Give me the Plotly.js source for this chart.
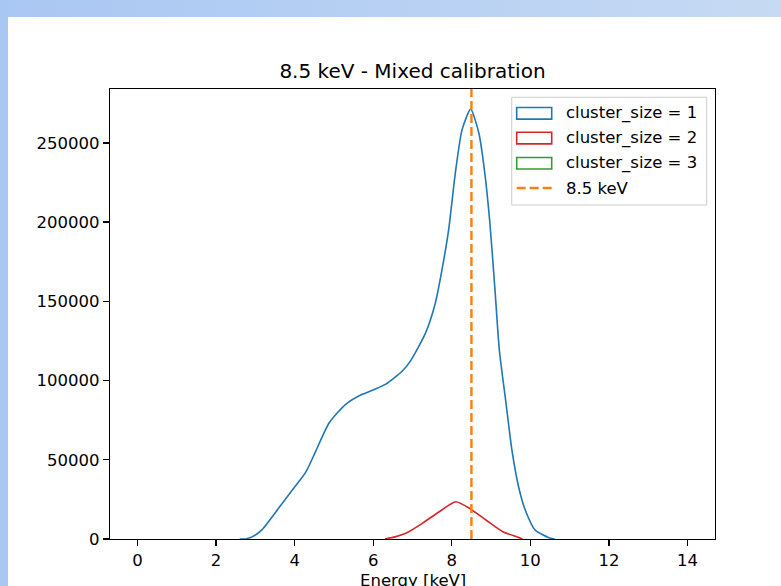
<!DOCTYPE html>
<html>
<head>
<meta charset="utf-8">
<script src="https://cdn.plot.ly/plotly-3.0.1.min.js"></script>
<style>
  html, body { margin:0; padding:0; width:781px; height:586px; overflow:hidden;
    background: linear-gradient(to right, #a9c7f3, #c6daf3); }
  #plot { position:absolute; left:8px; top:17px; width:773px; height:569px; background:#ffffff; }
</style>
</head>
<body>
<div id="plot"></div>
<script>
// ---- data ----
const chartTitle = '8.5 keV - Mixed calibration';
const xAxisTitle = 'Energy [keV]';
const seriesNames = ['cluster_size = 1', 'cluster_size = 2', 'cluster_size = 3', '8.5 keV'];
const seriesColors = ['#1f77b4', '#d62728', '#2ca02c', '#ff7f0e'];

// histogram outlines (the zero runs along the baseline are hidden under the axis, as in the reference)
const energyBlue = [2.6, 2.75, 2.95, 3.18, 3.61, 3.96, 4.28, 4.54, 4.88, 5.30, 5.72, 5.98, 6.32, 6.74, 6.95, 7.33, 7.58, 7.75, 7.92, 8.09, 8.26, 8.48, 8.69, 8.84, 8.97, 9.10, 9.21, 9.37, 9.53, 9.70, 9.87, 10.12, 10.46, 10.62];
const countsBlue = [0, 0, 1800, 6100, 20000, 31500, 42000, 55600, 73400, 85000, 91300, 93900, 97700, 106000, 112400, 129900, 148800, 169800, 195100, 230900, 258200, 271300, 256100, 230900, 199400, 157100, 119300, 87700, 56200, 33000, 18300, 5700, 1000, 0];

const energyRed = [6.3, 6.58, 6.83, 7.25, 7.68, 8.1, 8.45, 8.87, 9.30, 9.64, 9.8];
const countsRed = [0, 1500, 3600, 9900, 17200, 23500, 19400, 12000, 4600, 1500, 0];

const energyGreen = [0, 14];
const countsGreen = [0, 0];

const refEnergy = 8.5;

const xTickVals = [0, 2, 4, 6, 8, 10, 12, 14];
const yTickVals = [0, 50000, 100000, 150000, 200000, 250000];

// ---- traces ----
const font = 'DejaVu Sans, Liberation Sans, sans-serif';
const energies = [energyBlue, energyRed, energyGreen];
const counts = [countsBlue, countsRed, countsGreen];
const traces = energies.map((xs, i) => ({
  type: 'scatter', mode: 'lines', x: xs, y: counts[i], name: seriesNames[i],
  line: { color: seriesColors[i], width: i === 2 ? 0 : 1.6, shape: 'spline', smoothing: 0.6 },
  showlegend: false, hoverinfo: 'skip'
}));

// ---- custom matplotlib-like legend ----
const legX0 = 0.664, legX1 = 0.9863, legY0 = 0.7422, legY1 = 0.9816;
const patchX0 = 0.6722, patchX1 = 0.7301, textX = 0.7504;
const rowY = [0.9460, 0.8910, 0.8350, 0.7800];
const halfH = 0.0129;

const shapes = [
  { type: 'line', xref: 'x', yref: 'paper', x0: refEnergy, x1: refEnergy, y0: 0, y1: 1,
    line: { color: seriesColors[3], width: 2.4, dash: '9px,4px' } },
  { type: 'rect', xref: 'paper', yref: 'paper', x0: legX0, x1: legX1, y0: legY0, y1: legY1,
    fillcolor: 'rgba(255,255,255,0.8)', line: { color: '#cccccc', width: 1 } }
];
for (let i = 0; i < 3; i++) {
  shapes.push({ type: 'rect', xref: 'paper', yref: 'paper', x0: patchX0, x1: patchX1,
    y0: rowY[i] - halfH, y1: rowY[i] + halfH, fillcolor: 'rgba(0,0,0,0)',
    line: { color: seriesColors[i], width: 1.6 } });
}
shapes.push({ type: 'line', xref: 'paper', yref: 'paper', x0: patchX0, x1: patchX1,
  y0: rowY[3], y1: rowY[3], line: { color: seriesColors[3], width: 2.4, dash: '9px,4px' } });

const annotations = seriesNames.map((n, i) => ({
  xref: 'paper', yref: 'paper', x: textX, y: rowY[i], text: n, showarrow: false,
  xanchor: 'left', yanchor: 'middle', font: { family: font, size: 16.5, color: '#000000' }
}));
// x-axis title, placed like matplotlib's xlabel at the window bottom (slightly cut, as in the reference)
annotations.push({
  xref: 'paper', yref: 'paper', x: 0.5, y: -0.092, text: xAxisTitle, showarrow: false,
  xanchor: 'center', yanchor: 'middle', font: { family: font, size: 16.5, color: '#000000' }
});

const layout = {
  width: 773, height: 569,
  margin: { l: 102, r: 66, t: 72, b: 47 },
  paper_bgcolor: '#ffffff', plot_bgcolor: '#ffffff',
  font: { family: font, size: 16.5, color: '#000000' },
  title: { text: chartTitle, font: { family: font, size: 20, color: '#000000' },
    x: 0.5, xref: 'paper', xanchor: 'center', y: 0.905, yref: 'container', yanchor: 'middle' },
  xaxis: {
    range: [-0.7, 14.7], tickvals: xTickVals, ticks: 'outside', ticklen: 6, tickwidth: 1.3,
    tickcolor: '#000', showline: true, linecolor: '#000', linewidth: 1.3, mirror: true,
    showgrid: false, zeroline: false, automargin: false,
    tickfont: { family: font, size: 16.5, color: '#000' }
  },
  yaxis: {
    range: [0, 284000], tickvals: yTickVals, tickformat: 'd', ticks: 'outside', ticklen: 6,
    tickwidth: 1.3, tickcolor: '#000', showline: true, linecolor: '#000', linewidth: 1.3,
    mirror: true, showgrid: false, zeroline: false, automargin: false,
    tickfont: { family: font, size: 16.5, color: '#000' }
  },
  shapes: shapes,
  annotations: annotations,
  showlegend: false
};

Plotly.newPlot('plot', traces, layout, { staticPlot: true, displayModeBar: false });
</script>
</body>
</html>
